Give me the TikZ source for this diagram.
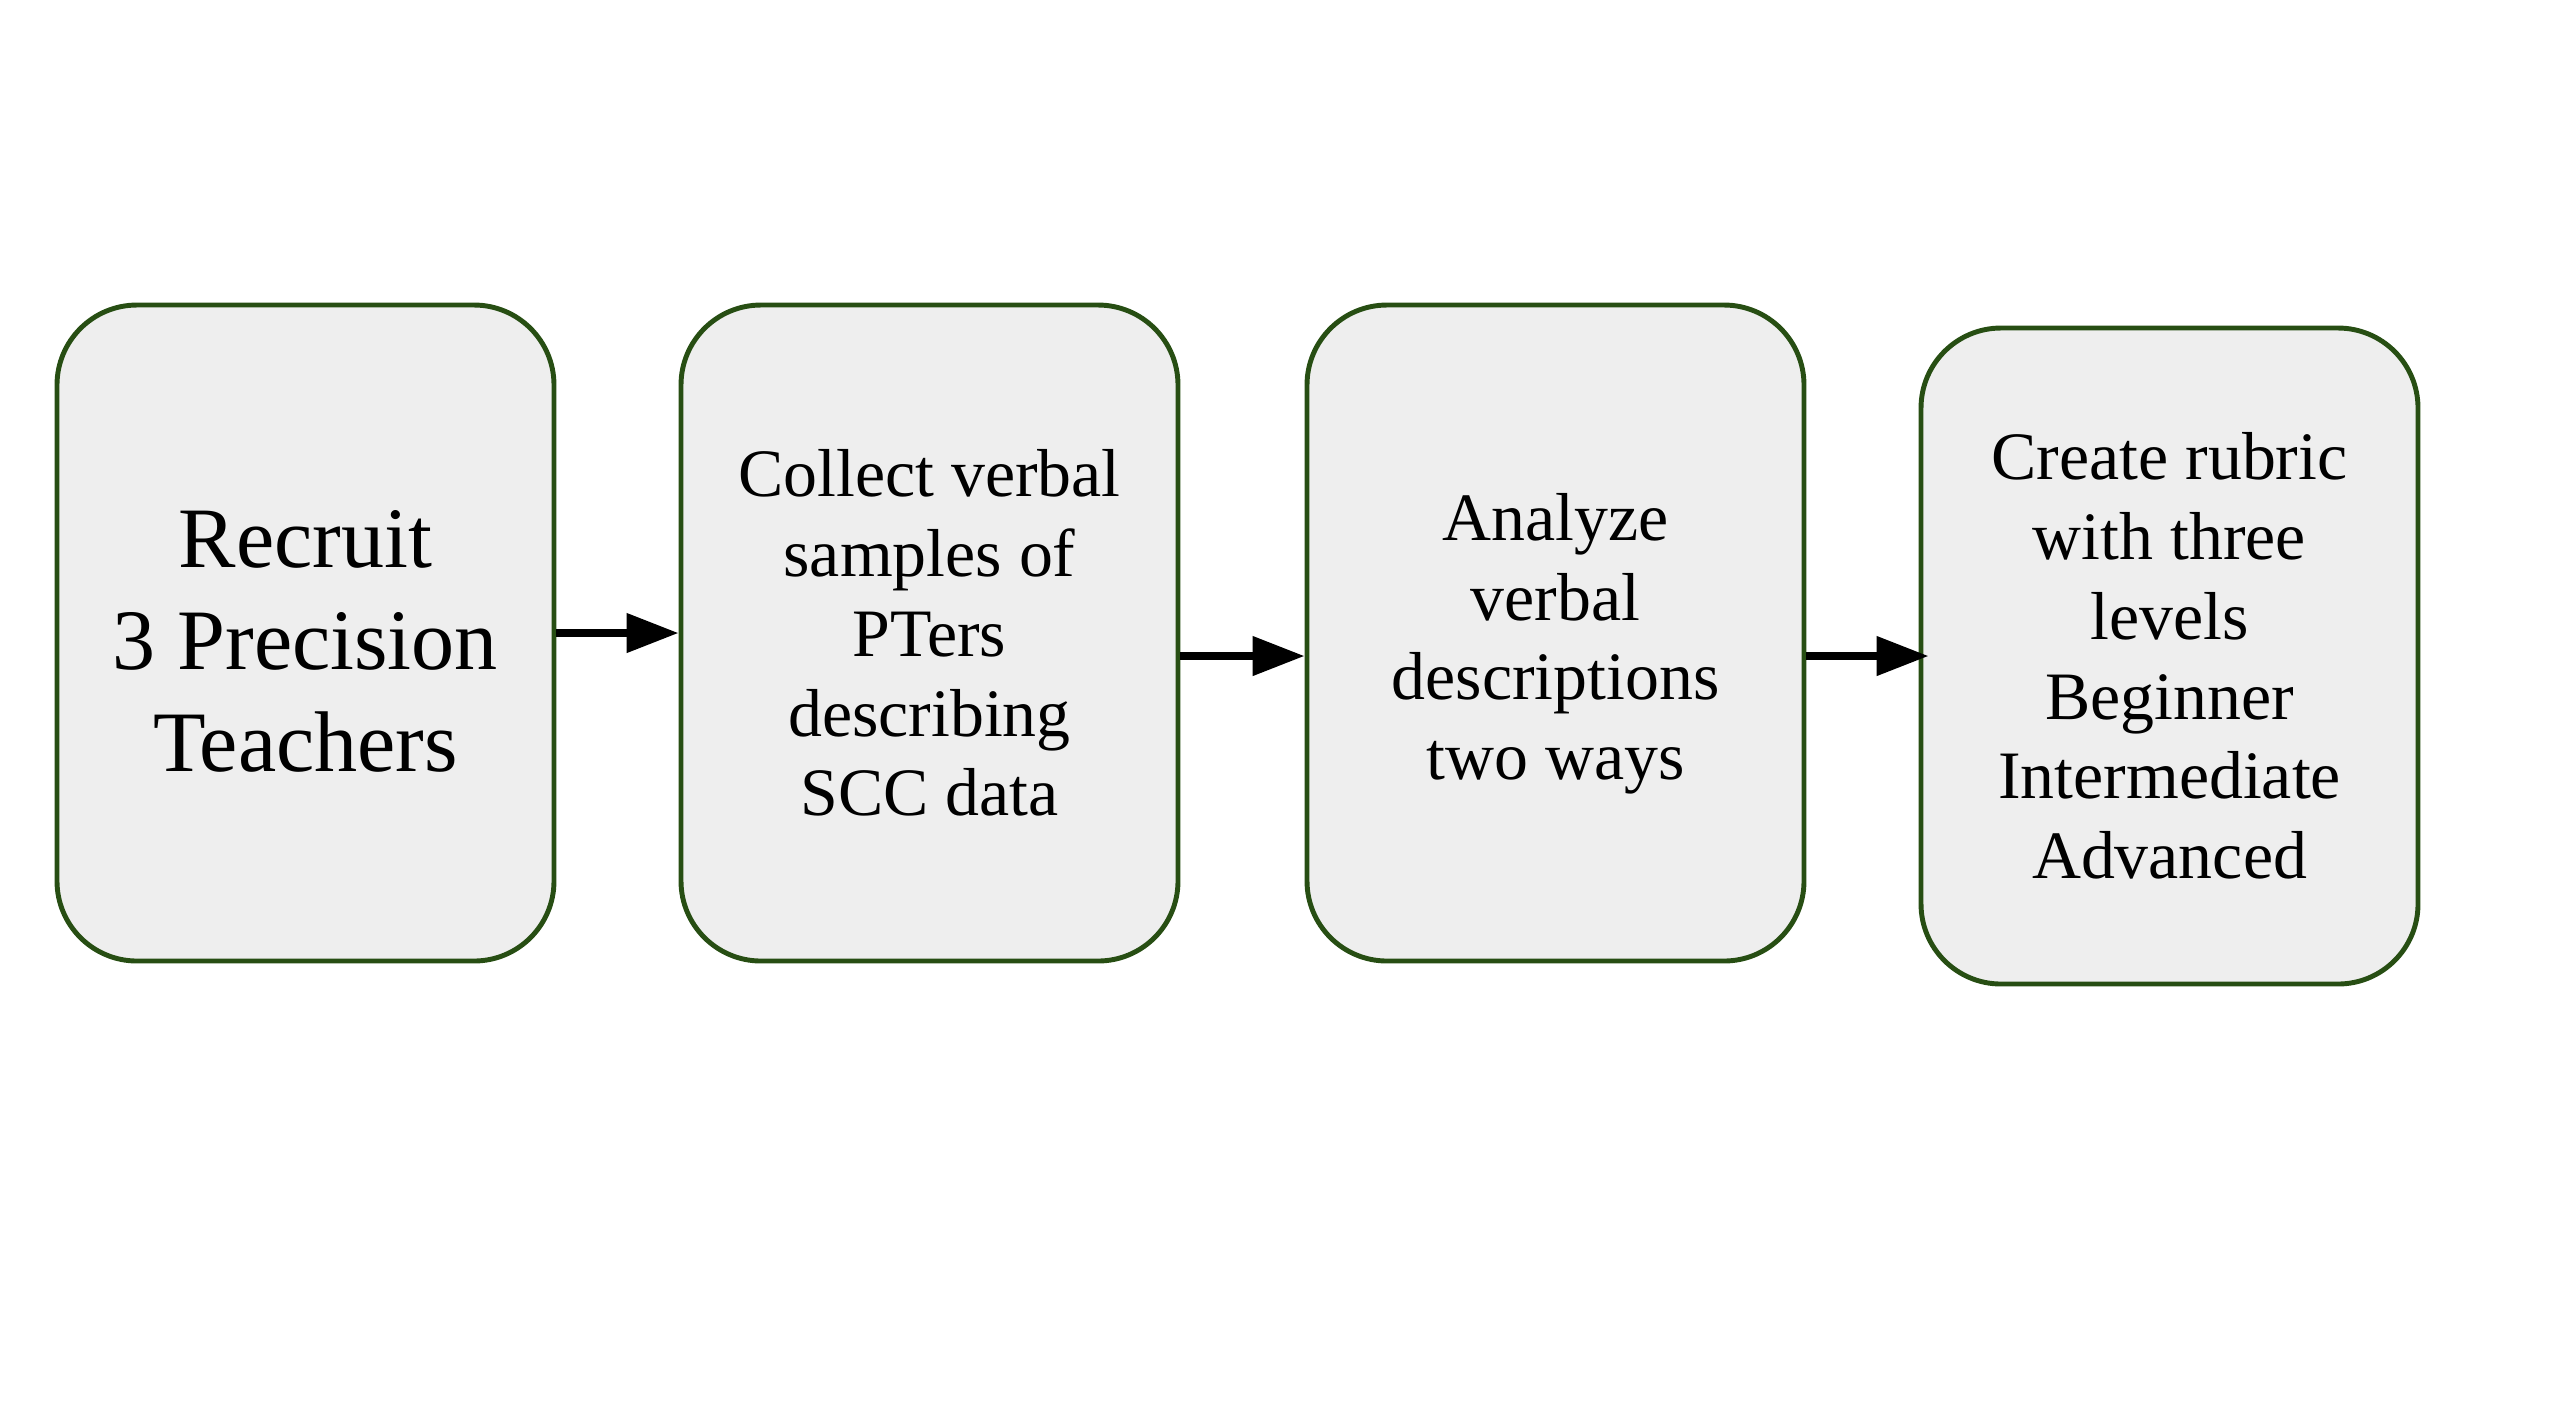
\documentclass[tikz,border=0pt]{standalone}
\usepackage{fontspec}
\setmainfont{Liberation Serif}
\usepackage{tikz}
\usetikzlibrary{positioning,arrows.meta}
\definecolor{boxgreen}{HTML}{274E13}
\definecolor{boxfill}{HTML}{EEEEEE}

\begin{document}
\begin{tikzpicture}
\tikzstyle{stepbox} = [draw=boxgreen, fill=boxfill, line width=1.4pt, rounded corners=0.8cm, minimum width=4.97cm, minimum height=6.56cm, align=center, inner sep=0pt];
\tikzstyle{arr} = [line width=2.2pt, -{Triangle[length=0.52cm,width=0.38cm]}];
\useasboundingbox (0,0) rectangle (25.55,-14.13);
\node[stepbox, font=\fontsize{24.5}{29}\selectfont, text height=2.78cm] (recruit) at (3.055,-6.33) {Recruit\\3 Precision\\Teachers};
\node[stepbox, font=\fontsize{19.3}{22.7}\selectfont] (collect) at (9.295,-6.33) {Collect verbal\\samples of\\PTers\\describing\\SCC data};
\node[stepbox, font=\fontsize{19.3}{22.7}\selectfont, text height=3.08cm] (analyze) at (15.555,-6.33) {Analyze\\verbal\\descriptions\\two ways};
\node[stepbox, font=\fontsize{19.3}{22.7}\selectfont] (rubric) at (21.695,-6.56) {Create rubric\\with three\\levels\\Beginner\\Intermediate\\Advanced};
\draw[arr] (recruit) -- (collect);
\draw[arr] (collect.east |- rubric) -- (analyze.west |- rubric);
\draw[arr, shorten >=-0.1cm] (analyze.east |- rubric) -- (rubric);
\end{tikzpicture}
\end{document}
